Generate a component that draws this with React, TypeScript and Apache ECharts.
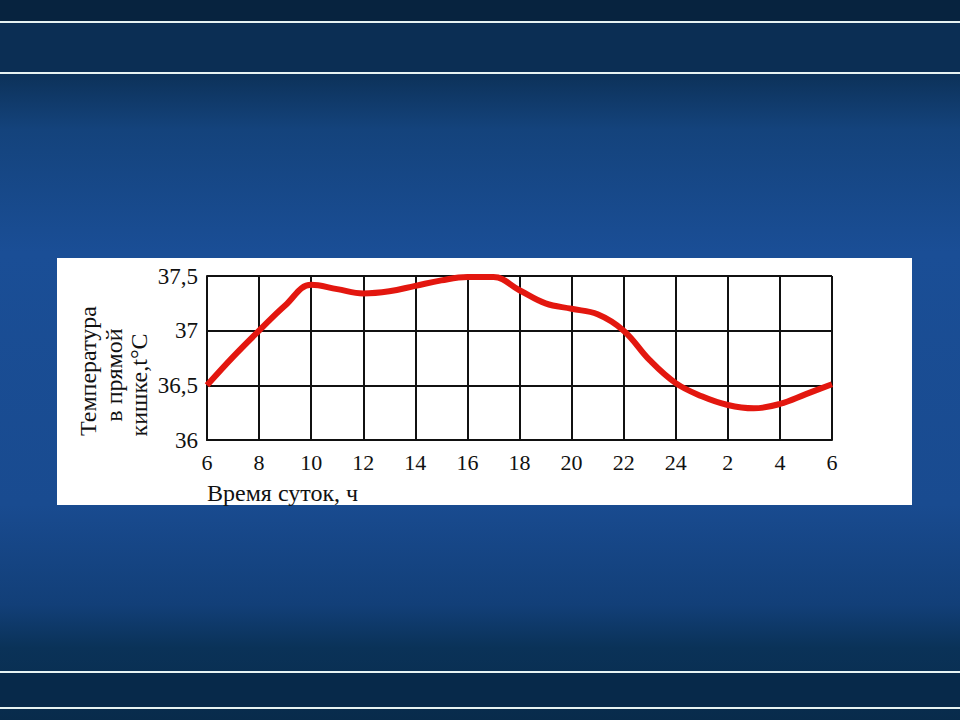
import React, { useEffect, useRef } from "react";
import * as echarts from "echarts";

const hours = [6, 7, 8, 9, 10, 11, 12, 13, 14, 15, 16, 17, 18, 19, 20, 21, 22, 23, 24, 25, 26, 27, 28, 29, 30];
const temps = [36.5, 36.76, 37.0, 37.23, 37.42, 37.38, 37.34, 37.36, 37.41, 37.46, 37.49, 37.49, 37.37, 37.25, 37.2, 37.15, 37.0, 36.73, 36.52, 36.4, 36.32, 36.29, 36.33, 36.42, 36.51];
const yNameLines = ["Температура", "в прямой", "кишке,t°C"];
const xName = "Время суток, ч";

const SERIF = "'Liberation Serif', 'DejaVu Serif', serif";

export default function App() {
  const ref = useRef<HTMLDivElement>(null);
  useEffect(() => {
    document.body.style.margin = "0";
    const chart = echarts.init(ref.current!, null, { renderer: "svg" });
    const data = hours.map((h, i) => [h, temps[i]]);
    chart.setOption({
      animation: false,
      backgroundColor: new echarts.graphic.LinearGradient(0, 0, 0, 1, [
        { offset: 0, color: "#0a2644" },
        { offset: 0.1, color: "#0c3158" },
        { offset: 0.18, color: "#14437c" },
        { offset: 0.35, color: "#1a4e96" },
        { offset: 0.7, color: "#194b90" },
        { offset: 0.84, color: "#123f78" },
        { offset: 0.9, color: "#0a3258" },
        { offset: 1, color: "#082b4b" },
      ]),
      grid: { left: 207, right: 128, top: 276, bottom: 280 },
      xAxis: {
        type: "value",
        min: 6,
        max: 30,
        interval: 2,
        axisLine: { show: true, lineStyle: { color: "#111", width: 2 } },
        axisTick: { show: false },
        splitLine: { show: true, lineStyle: { color: "#111", width: 2 } },
        axisLabel: {
          margin: 11,
          color: "#111",
          fontFamily: SERIF,
          fontSize: 22,
          formatter: (v: number) => String(v > 24 ? v - 24 : v),
        },
      },
      yAxis: {
        type: "value",
        min: 36,
        max: 37.5,
        interval: 0.5,
        axisLine: { show: true, lineStyle: { color: "#111", width: 2 } },
        axisTick: { show: false },
        splitLine: { show: true, lineStyle: { color: "#111", width: 2 } },
        axisLabel: {
          margin: 9,
          color: "#111",
          fontFamily: SERIF,
          fontSize: 23,
          formatter: (v: number) => String(v).replace(".", ","),
        },
      },
      graphic: [
        { type: "rect", z: -10, silent: true, shape: { x: 0, y: 0, width: 960, height: 22 }, style: { fill: "#07233f" } },
        { type: "rect", z: -10, silent: true, shape: { x: 0, y: 22, width: 960, height: 51 }, style: { fill: "#0b2e54" } },
        { type: "rect", z: -10, silent: true, shape: { x: 0, y: 672, width: 960, height: 36 }, style: { fill: "#07294a" } },
        { type: "line", z: -9, silent: true, shape: { x1: 0, y1: 22, x2: 960, y2: 22 }, style: { stroke: "#e6f2f2", lineWidth: 2 } },
        { type: "line", z: -9, silent: true, shape: { x1: 0, y1: 73, x2: 960, y2: 73 }, style: { stroke: "#e6f2f2", lineWidth: 2 } },
        { type: "line", z: -9, silent: true, shape: { x1: 0, y1: 672, x2: 960, y2: 672 }, style: { stroke: "#e6f2f2", lineWidth: 2 } },
        { type: "line", z: -9, silent: true, shape: { x1: 0, y1: 708, x2: 960, y2: 708 }, style: { stroke: "#e6f2f2", lineWidth: 2 } },
        { type: "rect", z: -5, silent: true, shape: { x: 57, y: 258, width: 855, height: 247 }, style: { fill: "#ffffff" } },
        {
          type: "text", x: 88, y: 371, rotation: Math.PI / 2, silent: true,
          style: { text: yNameLines[0], fill: "#111", font: `24px ${SERIF}`, align: "center", verticalAlign: "middle" },
        },
        {
          type: "text", x: 114, y: 375, rotation: Math.PI / 2, silent: true,
          style: { text: yNameLines[1], fill: "#111", font: `24px ${SERIF}`, align: "center", verticalAlign: "middle" },
        },
        {
          type: "text", x: 139, y: 385, rotation: Math.PI / 2, silent: true,
          style: { text: yNameLines[2], fill: "#111", font: `24px ${SERIF}`, align: "center", verticalAlign: "middle" },
        },
        {
          type: "text", x: 207, y: 493, silent: true,
          style: { text: xName, fill: "#111", font: `24px ${SERIF}`, align: "left", verticalAlign: "middle" },
        },
      ],
      series: [
        {
          type: "line",
          data,
          smooth: 0.4,
          showSymbol: false,
          clip: false,
          lineStyle: { color: "#e3170f", width: 6 },
        },
      ],
    });
    return () => chart.dispose();
  }, []);
  return <div ref={ref} style={{ position: "absolute", left: 0, top: 0, width: 960, height: 720 }} />;
}
